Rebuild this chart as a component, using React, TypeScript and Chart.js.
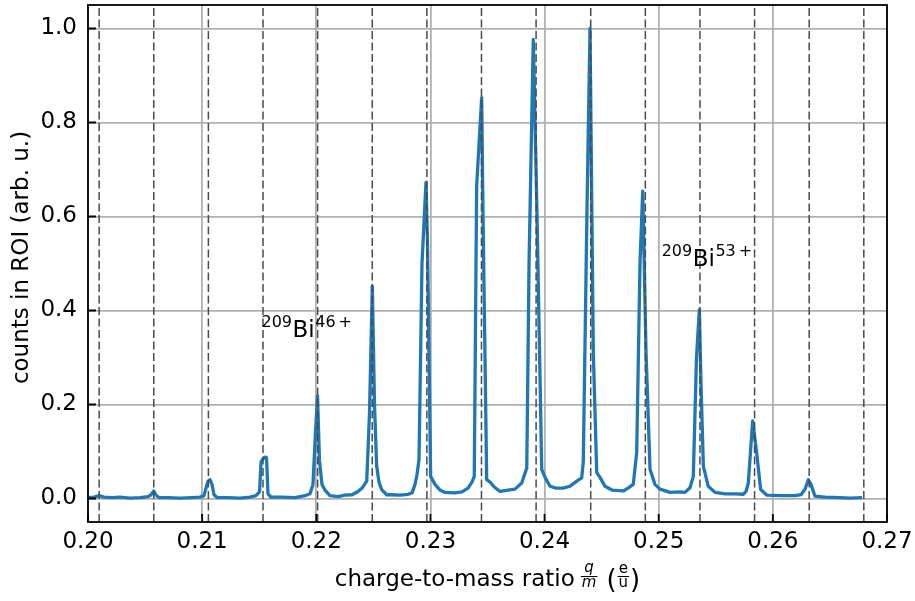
import React, { useEffect, useRef } from "react";
import { Chart, registerables } from "chart.js";

Chart.register(...registerables);

const FONT = '"DejaVu Sans", "Liberation Sans", sans-serif';

// Measured spectrum: charge-to-mass ratio (e/u) and normalised counts in the ROI
const ratio = [
  0.20000, 0.20053, 0.20096, 0.20140, 0.20210, 0.20280, 0.20368, 0.20456, 0.20526, 0.20552,
  0.20576, 0.20596, 0.20622, 0.20701, 0.20806, 0.20911, 0.20981, 0.21016, 0.21034, 0.21051,
  0.21069, 0.21086, 0.21104, 0.21130, 0.21227, 0.21332, 0.21419, 0.21472, 0.21503, 0.21516,
  0.21533, 0.21551, 0.21564, 0.21577, 0.21603, 0.21700, 0.21814, 0.21901, 0.21945, 0.21971,
  0.21993, 0.22011, 0.22028, 0.22050, 0.22076, 0.22120, 0.22190, 0.22252, 0.22313, 0.22365,
  0.22401, 0.22442, 0.22466, 0.22491, 0.22510, 0.22529, 0.22549, 0.22573, 0.22617, 0.22663,
  0.22733, 0.22804, 0.22839, 0.22865, 0.22882, 0.22900, 0.22926, 0.22961, 0.22974, 0.23002,
  0.23040, 0.23084, 0.23128, 0.23215, 0.23277, 0.23329, 0.23364, 0.23384, 0.23405, 0.23449,
  0.23461, 0.23493, 0.23522, 0.23557, 0.23610, 0.23680, 0.23741, 0.23800, 0.23844, 0.23864,
  0.23901, 0.23934, 0.23975, 0.24004, 0.24048, 0.24100, 0.24161, 0.24223, 0.24282, 0.24325,
  0.24339, 0.24372, 0.24398, 0.24427, 0.24457, 0.24486, 0.24529, 0.24591, 0.24690, 0.24731,
  0.24777, 0.24807, 0.24836, 0.24860, 0.24889, 0.24924, 0.24967, 0.25011, 0.25099, 0.25187,
  0.25230, 0.25274, 0.25303, 0.25331, 0.25356, 0.25370, 0.25391, 0.25434, 0.25493, 0.25581,
  0.25668, 0.25741, 0.25765, 0.25785, 0.25823, 0.25857, 0.25893, 0.25949, 0.26063, 0.26194,
  0.26247, 0.26282, 0.26311, 0.26334, 0.26369, 0.26457, 0.26588, 0.26676, 0.26781,
];

const counts = [
  0.002, 0.003, 0.006, 0.003, 0.002, 0.003, 0.001, 0.002, 0.004, 0.008,
  0.016, 0.007, 0.002, 0.002, 0.001, 0.002, 0.003, 0.006, 0.022, 0.036,
  0.040, 0.030, 0.008, 0.002, 0.002, 0.001, 0.003, 0.006, 0.014, 0.078,
  0.084, 0.088, 0.087, 0.010, 0.003, 0.003, 0.002, 0.006, 0.010, 0.030,
  0.140, 0.218, 0.080, 0.030, 0.018, 0.006, 0.004, 0.007, 0.008, 0.015,
  0.022, 0.037, 0.180, 0.452, 0.200, 0.069, 0.035, 0.019, 0.008, 0.008,
  0.007, 0.009, 0.012, 0.030, 0.050, 0.083, 0.500, 0.672, 0.550, 0.047,
  0.030, 0.018, 0.013, 0.012, 0.014, 0.022, 0.035, 0.047, 0.665, 0.853,
  0.600, 0.040, 0.035, 0.025, 0.015, 0.018, 0.020, 0.033, 0.065, 0.500,
  0.977, 0.600, 0.062, 0.045, 0.026, 0.022, 0.022, 0.026, 0.037, 0.044,
  0.077, 0.620, 1.000, 0.310, 0.055, 0.045, 0.026, 0.018, 0.016, 0.022,
  0.030, 0.097, 0.500, 0.654, 0.310, 0.062, 0.030, 0.020, 0.013, 0.014,
  0.013, 0.023, 0.047, 0.300, 0.402, 0.250, 0.069, 0.026, 0.013, 0.010,
  0.010, 0.009, 0.015, 0.033, 0.165, 0.100, 0.019, 0.007, 0.006, 0.006,
  0.008, 0.020, 0.040, 0.030, 0.005, 0.003, 0.002, 0.001, 0.002,
];

// Expected positions of the bismuth charge states
const BI_MASS = 208.98;
const charges = [42, 43, 44, 45, 46, 47, 48, 49, 50, 51, 52, 53, 54, 55, 56];

const xTicks = [0.2, 0.21, 0.22, 0.23, 0.24, 0.25, 0.26, 0.27];
const yTicks = [0, 0.2, 0.4, 0.6, 0.8, 1.0];
const X_MIN = 0.2;
const X_MAX = 0.27;
const Y_MIN = -0.05;
const Y_MAX = 1.05;

// Ion labels: mass number, element, charge state, anchor (left edge, baseline)
const labelMass = ["209", "209"];
const labelElement = ["Bi", "Bi"];
const labelCharge = ["46", "53"];
const labelX = [0.2152, 0.25026];
const labelY = [0.344, 0.494];

const decorPlugin = {
  id: "decor",
  afterDatasetsDraw(chart: any) {
    const { ctx, chartArea: a } = chart;
    const xs = chart.scales.x;
    const ys = chart.scales.y;
    ctx.save();
    ctx.strokeStyle = "#000";
    ctx.lineWidth = 1.8;
    ctx.beginPath();
    xTicks.forEach((v) => {
      const p = xs.getPixelForValue(v);
      ctx.moveTo(p, a.bottom);
      ctx.lineTo(p, a.bottom - 8);
    });
    yTicks.forEach((v) => {
      const p = ys.getPixelForValue(v);
      ctx.moveTo(a.left, p);
      ctx.lineTo(a.left + 8, p);
    });
    ctx.stroke();
    ctx.strokeRect(a.left, a.top, a.right - a.left, a.bottom - a.top);

    // ion labels in the style ^{209}Bi^{46+}
    ctx.fillStyle = "#000";
    ctx.textBaseline = "alphabetic";
    ctx.textAlign = "left";
    labelMass.forEach((mass, i) => {
      let px = xs.getPixelForValue(labelX[i]);
      const py = ys.getPixelForValue(labelY[i]);
      const rise = 10;
      ctx.font = `16px ${FONT}`;
      ctx.fillText(mass, px, py - rise);
      px += ctx.measureText(mass).width + 0.5;
      ctx.font = `23px ${FONT}`;
      ctx.fillText(labelElement[i], px, py);
      px += ctx.measureText(labelElement[i]).width + 0.5;
      ctx.font = `16px ${FONT}`;
      ctx.fillText(labelCharge[i], px, py - rise);
      px += ctx.measureText(labelCharge[i]).width + 3;
      ctx.fillText("+", px, py - rise);
    });
    ctx.restore();
  },
  afterDraw(chart: any) {
    const { ctx, chartArea: a } = chart;
    ctx.save();
    ctx.fillStyle = "#000";
    ctx.strokeStyle = "#000";
    ctx.textBaseline = "alphabetic";

    // x-axis title with stacked fractions
    const base = 586;
    const main = "charge-to-mass ratio";
    ctx.font = `23px ${FONT}`;
    const wMain = ctx.measureText(main).width;
    ctx.font = `italic 15px ${FONT}`;
    const wQM = Math.max(ctx.measureText("q").width, ctx.measureText("m").width) + 2;
    ctx.font = `15px ${FONT}`;
    const wEU = Math.max(ctx.measureText("e").width, ctx.measureText("u").width) + 2;
    ctx.font = `26px ${FONT}`;
    const wP = ctx.measureText("(").width;
    const gap1 = 6;
    const gap2 = 9;
    const total = wMain + gap1 + wQM + gap2 + wP + 1 + wEU + 1 + wP;
    let cx = (a.left + a.right) / 2 - total / 2;
    const barY = 576;

    ctx.textAlign = "left";
    ctx.font = `23px ${FONT}`;
    ctx.fillText(main, cx, base);
    cx += wMain + gap1;

    ctx.textAlign = "center";
    ctx.font = `italic 15px ${FONT}`;
    ctx.fillText("q", cx + wQM / 2, barY - 4);
    ctx.fillText("m", cx + wQM / 2, barY + 11);
    ctx.lineWidth = 1;
    ctx.beginPath();
    ctx.moveTo(cx, barY + 0.5);
    ctx.lineTo(cx + wQM, barY + 0.5);
    ctx.stroke();
    cx += wQM + gap2;

    ctx.textAlign = "left";
    ctx.font = `26px ${FONT}`;
    ctx.fillText("(", cx, base + 2);
    cx += wP + 1;
    ctx.textAlign = "center";
    ctx.font = `15px ${FONT}`;
    ctx.fillText("e", cx + wEU / 2, barY - 3);
    ctx.fillText("u", cx + wEU / 2, barY + 11);
    ctx.beginPath();
    ctx.moveTo(cx, barY + 0.5);
    ctx.lineTo(cx + wEU, barY + 0.5);
    ctx.stroke();
    cx += wEU + 1;
    ctx.textAlign = "left";
    ctx.font = `26px ${FONT}`;
    ctx.fillText(")", cx, base + 2);

    // y-axis title
    ctx.save();
    ctx.translate(28, (a.top + a.bottom) / 2 - 6);
    ctx.rotate(-Math.PI / 2);
    ctx.textAlign = "center";
    ctx.font = `23px ${FONT}`;
    ctx.fillText("counts in ROI (arb. u.)", 0, 0);
    ctx.restore();

    ctx.restore();
  },
};

export default function App() {
  const canvasRef = useRef<HTMLCanvasElement | null>(null);

  useEffect(() => {
    const canvas = canvasRef.current;
    if (!canvas) return;

    const spectrum = ratio.map((r, i) => ({ x: r, y: counts[i] }));
    const markerSets = charges.map((q) => ({
      data: [
        { x: q / BI_MASS, y: Y_MIN },
        { x: q / BI_MASS, y: Y_MAX },
      ],
      borderColor: "#4a4a4a",
      borderWidth: 1.5,
      borderDash: [8, 3.5],
      pointRadius: 0,
      order: 1,
    }));

    const chart = new Chart(canvas, {
      type: "line",
      data: {
        datasets: [
          {
            data: spectrum,
            borderColor: "#1f77b4",
            borderWidth: 3.3,
            borderJoinStyle: "round",
            pointRadius: 0,
            tension: 0,
            order: 2,
          },
          ...markerSets,
        ],
      },
      options: {
        responsive: false,
        animation: false,
        devicePixelRatio: 1,
        parsing: false,
        normalized: true,
        layout: { padding: { top: 5, right: 28, left: 0, bottom: 0 } },
        plugins: {
          legend: { display: false },
          tooltip: { enabled: false },
        },
        scales: {
          x: {
            type: "linear",
            min: X_MIN,
            max: X_MAX,
            afterBuildTicks: (s: any) => {
              s.ticks = xTicks.map((v) => ({ value: v }));
            },
            afterFit: (s: any) => {
              s.height = 79;
              s.paddingLeft = 0;
              s.paddingRight = 0;
            },
            grid: { color: "#b0b0b0", lineWidth: 1.8, drawTicks: false },
            border: { display: false },
            ticks: {
              color: "#000",
              padding: 6,
              maxRotation: 0,
              autoSkip: false,
              font: { family: FONT, size: 23 },
              callback: (v: any) => Number(v).toFixed(2),
            },
          },
          y: {
            type: "linear",
            min: Y_MIN,
            max: Y_MAX,
            afterBuildTicks: (s: any) => {
              s.ticks = yTicks.map((v) => ({ value: v }));
            },
            afterFit: (s: any) => {
              s.width = 88;
              s.paddingTop = 0;
              s.paddingBottom = 0;
            },
            grid: { color: "#b0b0b0", lineWidth: 1.8, drawTicks: false },
            border: { display: false },
            ticks: {
              color: "#000",
              padding: 11,
              autoSkip: false,
              font: { family: FONT, size: 23 },
              callback: (v: any) => Number(v).toFixed(1),
            },
          },
        },
      },
      plugins: [decorPlugin],
    } as any);

    return () => chart.destroy();
  }, []);

  return (
    <div style={{ position: "absolute", left: 0, top: 0, width: 915, height: 601, background: "#fff" }}>
      <canvas ref={canvasRef} width={915} height={601} style={{ display: "block" }} />
    </div>
  );
}
